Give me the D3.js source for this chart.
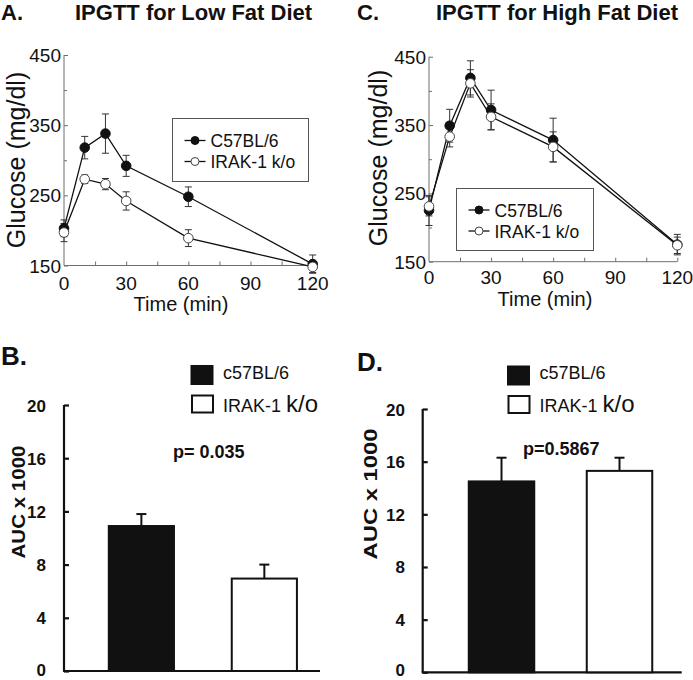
<!DOCTYPE html>
<html>
<head>
<meta charset="utf-8">
<script src="https://cdn.jsdelivr.net/npm/d3@7/dist/d3.min.js"></script>
<style>
  html, body { margin: 0; padding: 0; background: #fff; }
  svg { display: block; font-family: "Liberation Sans", Arial, sans-serif; }
</style>
</head>
<body>
<svg id="chart" width="693" height="680"></svg>
<script>
// ---------------- DATA ----------------
const timePoints = [0, 10, 20, 30, 60, 120];
const lowFatWT = [203, 318, 338, 292, 248, 152];
const lowFatWTErr = [12, 16, 28, 15, 14, 13];
const lowFatKO = [197, 273, 266, 242, 189, 148];
const lowFatKOErr = [13, 6, 8, 13, 12, 8];
const highFatWT = [225, 349, 419, 372, 328, 175];
const highFatWTErr = [22, 24, 25, 29, 32, 15];
const highFatKO = [231, 333, 411, 362, 318, 174];
const highFatKOErr = [14, 15, 20, 19, 22, 12];
const glucoseTicks = [150, 250, 350, 450];
const glucoseMinorTicks = [200, 300, 400];
const timeTicks = [0, 30, 60, 90, 120];
const timeMinorTicks = [15, 45, 75, 105];
const lineSeriesNames = ["C57BL/6", "IRAK-1 k/o"];

const groups = ["c57BL/6", "IRAK-1 k/o"];
const aucLowFat = [10.9, 6.95];
const aucLowFatErr = [0.9, 1.05];
const aucHighFat = [14.5, 15.3];
const aucHighFatErr = [1.8, 1.0];
const aucTicks = [0, 4, 8, 12, 16, 20];

// ---------------- DRAWING ----------------
const svg = d3.select("#chart");
const INK = "#111";
const AXIS_GRAY = "#6e6e6e";

function linePanel(cfg) {
  const g = svg.append("g");
  const x = d3.scaleLinear().domain([0, 120]).range(cfg.xRange);
  const y = d3.scaleLinear().domain([150, 450]).range(cfg.yRange);

  // title
  g.append("text").attr("x", cfg.letterX).attr("y", 19.5).attr("font-size", 22)
    .attr("font-weight", "bold").attr("fill", INK).text(cfg.letter);
  g.append("text").attr("x", cfg.titleX).attr("y", 19.5).attr("font-size", 22)
    .attr("font-weight", "bold").attr("fill", INK).text(cfg.title);

  // axes (ticks inward)
  const ay = g.append("g").attr("transform", `translate(${cfg.xRange[0]},0)`)
    .call(d3.axisRight(y).tickValues(glucoseTicks.concat(glucoseMinorTicks)).tickSize(4).tickFormat(""));
  ay.selectAll("path,line").attr("stroke", AXIS_GRAY);
  ay.select("path").attr("d", `M0,${cfg.yRange[1]}V${cfg.yRange[0]}`);
  ay.selectAll(".tick line").attr("x2", d => glucoseTicks.includes(d) ? 4 : 3);

  const ax = g.append("g").attr("transform", `translate(0,${cfg.yRange[0]})`)
    .call(d3.axisTop(x).tickValues(timeTicks.concat(timeMinorTicks)).tickSize(4).tickFormat(""));
  ax.selectAll("path,line").attr("stroke", AXIS_GRAY);
  ax.select("path").attr("d", `M${cfg.xRange[0]},0H${cfg.xRange[1]}`);
  ax.selectAll(".tick").filter(d => d === 0).remove();

  // tick labels
  g.selectAll(null).data(glucoseTicks).enter().append("text")
    .attr("x", cfg.xRange[0] - 3).attr("y", d => y(d) + 7)
    .attr("text-anchor", "end").attr("font-size", 19).attr("fill", INK).text(d => d);
  g.selectAll(null).data(timeTicks).enter().append("text")
    .attr("x", d => x(d)).attr("y", cfg.yRange[0] + cfg.xLabelOff)
    .attr("text-anchor", "middle").attr("font-size", 19).attr("fill", INK).text(d => d);

  // axis titles
  g.append("text").attr("transform", `translate(${cfg.yTitleX},${cfg.yTitleY}) rotate(-90)`)
    .attr("text-anchor", "middle").attr("font-size", 25).attr("fill", INK).text("Glucose (mg/dl)");
  g.append("text").attr("x", cfg.xTitleX).attr("y", cfg.xTitleY)
    .attr("text-anchor", "middle").attr("font-size", 20).attr("fill", INK).text("Time (min)");

  const series = [
    { vals: cfg.wt, err: cfg.wtErr, fill: INK },
    { vals: cfg.ko, err: cfg.koErr, fill: "#fff" }
  ];
  const line = d3.line().x((d, i) => x(timePoints[i])).y(d => y(d));
  series.forEach(s => {
    g.append("path").attr("d", line(s.vals)).attr("fill", "none")
      .attr("stroke", INK).attr("stroke-width", 1.3);
  });
  series.forEach(s => {
    const eb = g.append("g").attr("stroke", "#333").attr("stroke-width", 1);
    s.vals.forEach((v, i) => {
      const cx = x(timePoints[i]);
      eb.append("line").attr("x1", cx).attr("x2", cx).attr("y1", y(v - s.err[i])).attr("y2", y(v + s.err[i]));
      eb.append("line").attr("x1", cx - 3.5).attr("x2", cx + 3.5).attr("y1", y(v + s.err[i])).attr("y2", y(v + s.err[i]));
      eb.append("line").attr("x1", cx - 3.5).attr("x2", cx + 3.5).attr("y1", y(v - s.err[i])).attr("y2", y(v - s.err[i]));
    });
  });
  series.forEach(s => {
    g.selectAll(null).data(s.vals).enter().append("circle")
      .attr("cx", (d, i) => x(timePoints[i])).attr("cy", d => y(d)).attr("r", 4.8)
      .attr("fill", s.fill).attr("stroke", s.fill === INK ? INK : "#444").attr("stroke-width", 1);
  });

  // legend
  const L = cfg.legend;
  g.append("rect").attr("x", L.x).attr("y", L.y).attr("width", L.w).attr("height", L.h)
    .attr("fill", "#fff").attr("stroke", "#555").attr("stroke-width", 1);
  lineSeriesNames.forEach((name, i) => {
    const ry = L.y + L.row0 + i * L.rowGap;
    const sx0 = L.x + 12, sx1 = L.x + 33;
    g.append("line").attr("x1", sx0).attr("x2", sx1).attr("y1", ry).attr("y2", ry)
      .attr("stroke", INK).attr("stroke-width", 1.3);
    g.append("circle").attr("cx", (sx0 + sx1) / 2).attr("cy", ry).attr("r", 4)
      .attr("fill", i === 0 ? INK : "#fff").attr("stroke", i === 0 ? INK : "#444");
    g.append("text").attr("x", L.x + 38).attr("y", ry + 6.5).attr("font-size", 17.5)
      .attr("fill", INK).text(name);
  });
}

function barPanel(cfg) {
  const g = svg.append("g");
  const y = d3.scaleLinear().domain([0, 20]).range(cfg.yRange);
  const x = d3.scaleBand().domain(groups).range(cfg.xRange)
    .paddingInner(cfg.pi).paddingOuter(cfg.po).align(cfg.align);

  g.append("text").attr("x", cfg.letterX).attr("y", cfg.letterY).attr("font-size", 26)
    .attr("font-weight", "bold").attr("fill", INK).text(cfg.letter);

  const ay = g.append("g").attr("transform", `translate(${cfg.xRange[0]},0)`)
    .call(d3.axisRight(y).tickValues(aucTicks).tickSize(5).tickFormat(""));
  ay.selectAll("path,line").attr("stroke", INK).attr("stroke-width", 2.2);
  ay.select("path").attr("d", `M0,${cfg.yRange[1]}V${cfg.yRange[0]}`);

  g.append("line").attr("x1", cfg.xRange[0] - 1).attr("x2", cfg.xRange[1])
    .attr("y1", y(0)).attr("y2", y(0)).attr("stroke", INK).attr("stroke-width", 2.2);

  g.selectAll(null).data(aucTicks).enter().append("text")
    .attr("x", cfg.tickLabelX).attr("y", d => Math.min(y(d) + 6.5, 675.5))
    .attr("text-anchor", "end").attr("font-size", 17).attr("font-weight", "bold")
    .attr("fill", INK).text(d => d);

  g.append("text").attr("transform", `translate(${cfg.yTitleX},${cfg.yTitleY}) rotate(-90)`)
    .attr("text-anchor", "middle").attr("font-size", 19).attr("font-weight", "bold")
    .attr("textLength", cfg.yTitleLen).attr("lengthAdjust", "spacingAndGlyphs")
    .attr("fill", INK).text("AUC x 1000");

  groups.forEach((gr, i) => {
    const bx = x(gr), bw = x.bandwidth();
    const v = cfg.vals[i], e = cfg.errs[i];
    const cx = bx + bw / 2;
    g.append("line").attr("x1", cx).attr("x2", cx).attr("y1", y(v)).attr("y2", y(v + e))
      .attr("stroke", INK).attr("stroke-width", 2);
    g.append("line").attr("x1", cx - 5).attr("x2", cx + 5).attr("y1", y(v + e)).attr("y2", y(v + e))
      .attr("stroke", INK).attr("stroke-width", 2);
    g.append("rect").attr("x", bx).attr("y", y(v)).attr("width", bw).attr("height", y(0) - y(v))
      .attr("fill", i === 0 ? INK : "#fff").attr("stroke", INK).attr("stroke-width", 2);
  });

  g.append("text").attr("x", cfg.pX).attr("y", cfg.pY).attr("font-size", 18)
    .attr("font-weight", "bold").attr("fill", INK).text(cfg.pText);

  // legend
  const L = cfg.legend;
  g.append("rect").attr("x", L.x).attr("y", L.y).attr("width", 22).attr("height", 19)
    .attr("fill", INK).attr("stroke", INK).attr("stroke-width", 1);
  g.append("rect").attr("x", L.x + 1).attr("y", L.y + 30).attr("width", 21).attr("height", 17)
    .attr("fill", "#fff").attr("stroke", INK).attr("stroke-width", 2);
  g.append("text").attr("x", L.x + 32).attr("y", L.y + 13).attr("font-size", 18)
    .attr("fill", INK).text(groups[0]);
  const t2 = g.append("text").attr("x", L.x + 32).attr("y", L.y + 46).attr("fill", INK);
  const parts = groups[1].split(" ");
  t2.append("tspan").attr("font-size", 18).text(parts[0] + " ");
  t2.append("tspan").attr("font-size", 24).text(parts[1]);
}

linePanel({
  letter: "A.", letterX: 1, title: "IPGTT for Low Fat Diet", titleX: 75,
  xRange: [64, 312.7], yRange: [265.5, 55],
  wt: lowFatWT, wtErr: lowFatWTErr, ko: lowFatKO, koErr: lowFatKOErr,
  xLabelOff: 24, yTitleX: 25, yTitleY: 160, xTitleX: 181, xTitleY: 311,
  legend: { x: 172.5, y: 118.5, w: 136, h: 63, row0: 22, rowGap: 21 }
});
linePanel({
  letter: "C.", letterX: 357, title: "IPGTT for High Fat Diet", titleX: 436,
  xRange: [429, 677.3], yRange: [261.7, 56.7],
  wt: highFatWT, wtErr: highFatWTErr, ko: highFatKO, koErr: highFatKOErr,
  xLabelOff: 22.5, yTitleX: 387, yTitleY: 158, xTitleX: 545, xTitleY: 306,
  legend: { x: 456.5, y: 188.5, w: 137, h: 62, row0: 21.5, rowGap: 21 }
});
barPanel({
  letter: "B.", letterX: 1, letterY: 365,
  xRange: [64, 320], yRange: [671, 405], pi: 0.47, po: 0.276, align: 0.66,
  vals: aucLowFat, errs: aucLowFatErr, tickLabelX: 46,
  yTitleX: 25, yTitleY: 502, yTitleLen: 113,
  pText: "p= 0.035", pX: 173, pY: 458,
  legend: { x: 191, y: 365.5 }
});
barPanel({
  letter: "D.", letterX: 357, letterY: 371,
  xRange: [422.7, 681.7], yRange: [672.3, 409], pi: 0.445, po: 0.32, align: 0.61,
  vals: aucHighFat, errs: aucHighFatErr, tickLabelX: 405,
  yTitleX: 377, yTitleY: 494, yTitleLen: 131,
  pText: "p=0.5867", pX: 523, pY: 455,
  legend: { x: 507.5, y: 366 }
});
</script>
</body>
</html>
